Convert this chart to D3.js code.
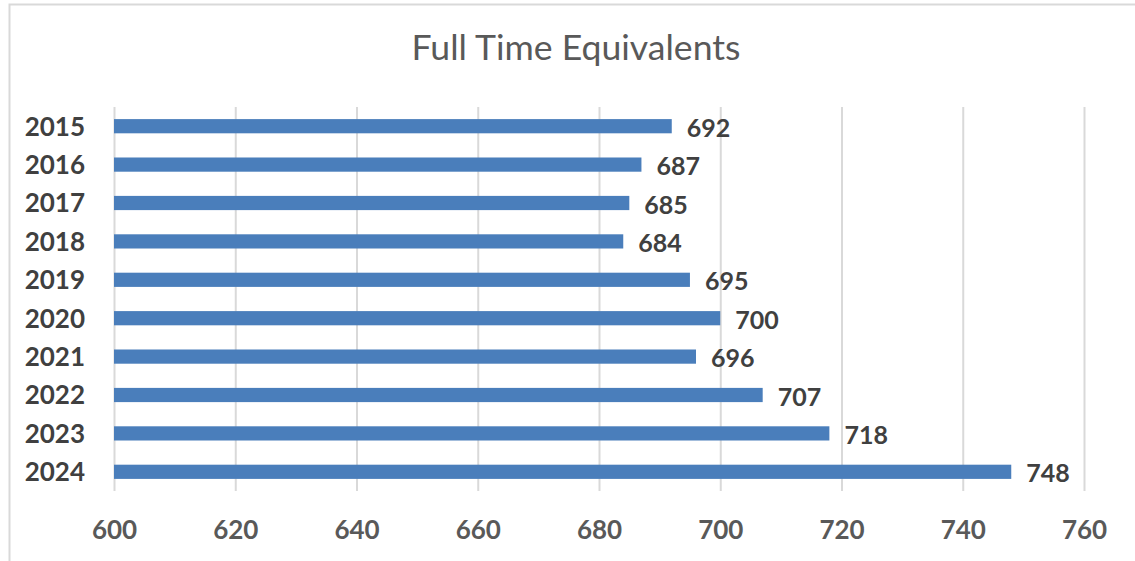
<!DOCTYPE html>
<html>
<head>
<meta charset="utf-8">
<script src="https://cdn.jsdelivr.net/npm/d3@7"></script>
<style>
  html, body { margin: 0; padding: 0; background: #ffffff; }
  svg { display: block; }
  text { font-family: Lato, "Open Sans", sans-serif; }
</style>
</head>
<body>
<svg id="chart" width="1135" height="561"></svg>
<script>
// Full time equivalents per year
const years = ["2015", "2016", "2017", "2018", "2019", "2020", "2021", "2022", "2023", "2024"];
const fte = [692, 687, 685, 684, 695, 700, 696, 707, 718, 748];
const xTicks = [600, 620, 640, 660, 680, 700, 720, 740, 760];
const title = "Full Time Equivalents";

const data = years.map((y, i) => ({ year: y, value: fte[i] }));

const W = 1135, H = 561;
const plot = { left: 114, right: 1084, top: 107, bottom: 491 };

const svg = d3.select("#chart");

// outer chart frame
svg.append("rect")
  .attr("x", 9.5).attr("y", 4.5)
  .attr("width", W + 10).attr("height", H + 10)
  .attr("fill", "#ffffff")
  .attr("stroke", "#d9d9d9").attr("stroke-width", 2);

const x = d3.scaleLinear()
  .domain([xTicks[0], xTicks[xTicks.length - 1]])
  .range([plot.left, plot.right]);

const y = d3.scaleBand()
  .domain(years)
  .range([plot.top, plot.bottom])
  .paddingInner(0.63)
  .paddingOuter(0.315);

// title
const t = svg.append("text")
  .attr("x", 576).attr("y", 60)
  .attr("text-anchor", "middle")
  .attr("fill", "#595959")
  .attr("font-size", 30)
  .text(title);
const tw = t.node().getComputedTextLength();
t.attr("font-size", 30 * 329 / tw);

// vertical gridlines
const grid = d3.axisBottom(x)
  .tickValues(xTicks)
  .tickSize(-(plot.bottom - plot.top))
  .tickFormat("");
svg.append("g")
  .attr("transform", `translate(0,${plot.bottom})`)
  .call(grid)
  .call(g => g.select(".domain").remove())
  .call(g => g.selectAll("line").attr("stroke", "#d9d9d9").attr("stroke-width", 2));

// x axis labels
svg.append("g")
  .attr("transform", `translate(0,${plot.bottom})`)
  .call(d3.axisBottom(x).tickValues(xTicks).tickSize(0).tickPadding(0).tickFormat(d3.format("d")))
  .call(g => g.select(".domain").remove())
  .call(g => g.selectAll("text")
    .attr("dy", null)
    .attr("y", 48)
    .attr("fill", "#595959")
    .attr("font-size", 26)
    .attr("font-weight", "bold")
    .attr("font-family", "Lato, 'Open Sans', sans-serif"));

// y axis labels
svg.append("g")
  .attr("transform", `translate(${plot.left},0)`)
  .call(d3.axisLeft(y).tickSize(0).tickPadding(29))
  .call(g => g.select(".domain").remove())
  .call(g => g.selectAll("text")
    .attr("dy", "0.36em")
    .attr("fill", "#404040")
    .attr("font-size", 26)
    .attr("font-weight", "bold")
    .attr("font-family", "Lato, 'Open Sans', sans-serif"));

// bars
svg.append("g")
  .selectAll("rect")
  .data(data)
  .join("rect")
  .attr("x", x(xTicks[0]))
  .attr("y", d => y(d.year))
  .attr("width", d => x(d.value) - x(xTicks[0]))
  .attr("height", y.bandwidth())
  .attr("fill", "#4a7ebb");

// value labels
svg.append("g")
  .selectAll("text")
  .data(data)
  .join("text")
  .attr("x", d => x(d.value) + 15)
  .attr("y", d => y(d.year) + y.bandwidth() / 2 + 1.5)
  .attr("dy", "0.36em")
  .attr("fill", "#404040")
  .attr("font-size", 25)
  .attr("font-weight", "bold")
  .text(d => d.value);
</script>
</body>
</html>
